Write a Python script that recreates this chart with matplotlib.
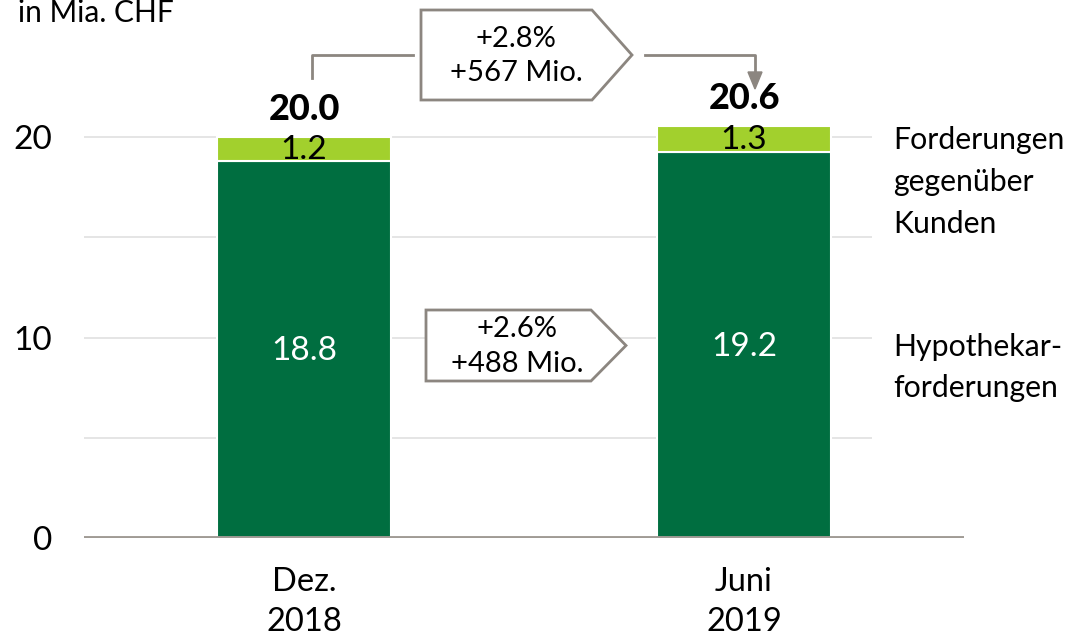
import matplotlib
matplotlib.use("Agg")
import matplotlib.pyplot as plt
from matplotlib.patches import Polygon
from matplotlib.lines import Line2D

plt.rcParams['font.family'] = ['Lato', 'DejaVu Sans']

# ---- data ----
categories = ["Dez.\n2018", "Juni\n2019"]
hypo = [18.8, 19.25]
kunden = [1.2, 1.3]
hypo_labels = ["18.8", "19.2"]
kunden_labels = ["1.2", "1.3"]
total_labels = ["20.0", "20.6"]
yticks = [0, 10, 20]
series_names = ["Hypothekar-\nforderungen", "Forderungen\ngegenüber\nKunden"]
growth_total = ["+2.8%", "+567 Mio."]
growth_hypo = ["+2.6%", "+488 Mio."]

DARK = "#006e40"
LIGHT = "#a2d02d"
GRAY = "#8c8680"

W, H = 1071, 638
PX = 20.05  # pixels per data unit
fig = plt.figure(figsize=(W / 100, H / 100), dpi=100)
ax = fig.add_axes([84 / W, (H - 538) / H, (964 - 84) / W, 538 / H])
ymax = 538 / PX
ax.set_ylim(0, ymax)
ax.set_xlim(-0.5, 1.5)

x = list(range(len(categories)))
for gy in [5, 10, 15, 20]:
    ax.hlines(gy, -0.5, 1.29, color="#e3e3e3", lw=1.3, zorder=0)

ax.bar(x, hypo, width=0.395, color=DARK, edgecolor="white", linewidth=1.5, zorder=2)
ax.bar(x, kunden, bottom=hypo, width=0.395, color=LIGHT, edgecolor="white",
       linewidth=1.5, zorder=2)

for i in x:
    ax.text(i, hypo[i] * 0.495, hypo_labels[i], ha="center", va="center",
            color="white", fontsize=24)
    ax.text(i, hypo[i] + kunden[i] * 0.45, kunden_labels[i], ha="center",
            va="center", color="black", fontsize=24)
    ax.text(i, hypo[i] + kunden[i] + 0.85, total_labels[i], ha="center",
            va="baseline", color="black", fontsize=26, fontweight="black")
    ax.text(i, -64 / PX, categories[i], ha="center", va="center", fontsize=23.5,
            linespacing=1.45)

for s in ax.spines.values():
    s.set_visible(False)
ax.axhline(0, color="#a09b95", lw=2.8, zorder=3)
ax.set_xticks([])
ax.set_yticks(yticks)
ax.set_yticklabels([str(t) for t in yticks], fontsize=24)
ax.tick_params(axis="y", length=0, pad=23)

# series labels on right
ax.text(1.34, 8.5, series_names[0], ha="left", va="center",
        fontsize=21.8, linespacing=1.6)
ax.text(1.34, 17.75, series_names[1], ha="left", va="center",
        fontsize=21.8, linespacing=1.6)

# unit label
fig.text(18 / W, 1 - 22 / H, "in Mia. CHF", ha="left", va="baseline", fontsize=21.5)

# ---- annotations in pixel coordinates ----
def P(px, py):
    return (px / W, 1 - py / H)

tf = fig.transFigure

def arrow_box(x0, x1, xt, y0, y1, lines, tx):
    pts = [P(x0, y0), P(x1, y0), P(xt, (y0 + y1) / 2), P(x1, y1), P(x0, y1)]
    fig.patches.append(Polygon(pts, closed=True, transform=tf, facecolor="white",
                               edgecolor=GRAY, lw=2, zorder=5))
    ym = (y0 + y1) / 2
    fig.text(*P(tx, ym + 1), "\n".join(lines), transform=tf, ha="center",
             va="center", fontsize=21, linespacing=1.42, zorder=6)

arrow_box(421, 592, 632, 10, 100, growth_total, 516)
arrow_box(426, 591, 626, 310, 381, growth_hypo, 517)

# connector for total
fig.lines.append(Line2D([312 / W, 312 / W, 413 / W],
                        [1 - 78 / H, 1 - 55 / H, 1 - 55 / H],
                        transform=tf, color=GRAY, lw=2))
fig.lines.append(Line2D([645 / W, 755 / W, 755 / W],
                        [1 - 55 / H, 1 - 55 / H, 1 - 74 / H],
                        transform=tf, color=GRAY, lw=2))
fig.patches.append(Polygon([P(748, 72), P(762, 72), P(755, 89)], closed=True,
                           transform=tf, facecolor=GRAY, edgecolor=GRAY, lw=1))

fig.savefig("out.png", dpi=100)
